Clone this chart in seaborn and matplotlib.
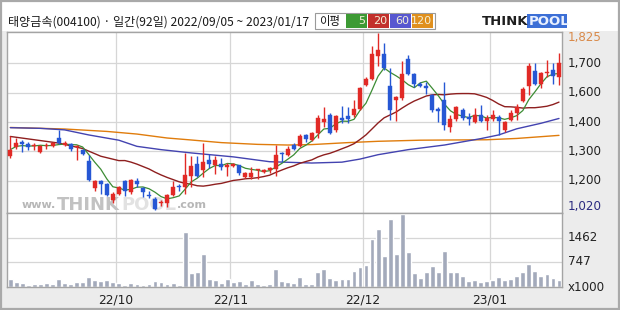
import numpy as np
import pandas as pd
import matplotlib
matplotlib.use("Agg")
import matplotlib.pyplot as plt
import seaborn as sns
from matplotlib.patches import Rectangle

# ---------------- data ----------------
opens = [1265, 1305, 1330, 1320, 1310, 1285, 1310, 1310, 1350, 1315,
         1320, 1305, 1295, 1245, 1120, 1150, 1140, 1065, 1095, 1150,
         1100, 1150, 1120, 1090, 1070, 1050, 1050, 1090, 1130, 1125,
         1175, 1230, 1200, 1250, 1225, 1230, 1215, 1220, 1225, 1170,
         1170, 1200, 1195, 1200, 1205, 1280, 1270, 1315, 1310, 1360,
         1340, 1370, 1420, 1455, 1385, 1440, 1450, 1455, 1480, 1590,
         1615, 1720, 1730, 1585, 1520, 1530, 1710, 1640, 1595, 1585,
         1545, 1480, 1520, 1400, 1435, 1475, 1445, 1420, 1455, 1425,
         1435, 1445, 1385, 1430, 1460, 1515, 1585, 1655, 1595, 1645,
         1660, 1625]
highs = [1355, 1350, 1340, 1330, 1325, 1315, 1325, 1330, 1385, 1335,
         1325, 1315, 1300, 1270, 1155, 1155, 1145, 1100, 1130, 1155,
         1160, 1165, 1125, 1105, 1080, 1065, 1095, 1150, 1140, 1280,
         1265, 1265, 1325, 1275, 1265, 1255, 1235, 1235, 1225, 1195,
         1215, 1205, 1205, 1215, 1315, 1285, 1310, 1325, 1365, 1365,
         1375, 1455, 1490, 1460, 1455, 1495, 1490, 1520, 1580, 1625,
         1765, 1825, 1780, 1665, 1540, 1700, 1725, 1645, 1605, 1605,
         1550, 1490, 1605, 1455, 1495, 1485, 1460, 1485, 1500, 1455,
         1475, 1455, 1425, 1475, 1505, 1580, 1690, 1690, 1650, 1705,
         1690, 1735]
lows = [1255, 1300, 1285, 1295, 1295, 1280, 1300, 1305, 1320, 1310,
        1290, 1250, 1270, 1150, 1105, 1095, 1085, 1050, 1090, 1085,
        1095, 1125, 1080, 1075, 1020, 1040, 1035, 1085, 1105, 1095,
        1125, 1170, 1170, 1210, 1185, 1200, 1175, 1215, 1180, 1165,
        1160, 1160, 1190, 1190, 1175, 1240, 1265, 1295, 1305, 1330,
        1335, 1350, 1400, 1365, 1375, 1415, 1415, 1445, 1475, 1585,
        1610, 1675, 1660, 1430, 1425, 1520, 1635, 1580, 1580, 1550,
        1465, 1420, 1385, 1375, 1425, 1430, 1405, 1415, 1420, 1385,
        1425, 1360, 1375, 1425, 1430, 1510, 1545, 1590, 1575, 1625,
        1595, 1590]
closes = [1295, 1325, 1320, 1305, 1315, 1310, 1315, 1325, 1325, 1325,
          1300, 1310, 1275, 1155, 1150, 1140, 1090, 1095, 1125, 1105,
          1155, 1140, 1100, 1085, 1025, 1055, 1090, 1125, 1125, 1180,
          1220, 1175, 1240, 1230, 1250, 1215, 1225, 1230, 1190, 1190,
          1190, 1205, 1200, 1210, 1270, 1275, 1300, 1300, 1355, 1345,
          1370, 1440, 1435, 1370, 1450, 1430, 1435, 1480, 1575, 1615,
          1730, 1750, 1665, 1475, 1535, 1640, 1640, 1595, 1585, 1575,
          1475, 1470, 1405, 1435, 1490, 1440, 1435, 1455, 1425, 1440,
          1455, 1425, 1420, 1460, 1490, 1570, 1675, 1595, 1645, 1650,
          1630, 1690]
volumes = [246, 167, 128, 79, 88, 108, 128, 98, 246, 118,
           98, 148, 148, 295, 216, 197, 216, 148, 118, 79,
           118, 108, 79, 98, 187, 148, 88, 118, 79, 1640,
           432, 462, 983, 246, 216, 118, 246, 147, 187, 98,
           216, 98, 79, 88, 540, 187, 147, 118, 315, 98,
           98, 442, 541, 285, 226, 246, 246, 482, 600, 659,
           1425, 1720, 924, 2015, 983, 2163, 1032, 423, 285, 452,
           629, 452, 1071, 452, 452, 334, 187, 226, 157, 187,
           206, 315, 216, 246, 334, 452, 698, 482, 344, 393,
           275, 216]

# moving-average lines (day index, value)
ma20_early_idx = [0, 4, 8, 12, 15, 18]
ma20_early_val = [1355, 1340, 1325, 1300, 1265, 1245]
ma60_idx = [0, 5, 9, 13, 18, 21, 25, 30, 37, 43, 50, 55, 58, 61, 66, 72, 78, 81, 84, 88, 91]
ma60_val = [1395, 1392, 1385, 1362, 1338, 1310, 1295, 1280, 1262, 1240, 1234, 1238,
            1252, 1272, 1295, 1316, 1345, 1362, 1390, 1415, 1437]
ma120_idx = [0, 9, 16, 21, 26, 30, 35, 41, 46, 50, 56, 61, 68, 79, 84, 91]
ma120_val = [1396, 1389, 1378, 1366, 1348, 1339, 1327, 1319, 1316, 1318, 1327,
             1333, 1338, 1340, 1346, 1360]

month_labels = ["22/10", "22/11", "22/12", "23/01"]
month_first_idx = [18, 37, 59, 80]
price_tick_labels = ["1,700", "1,600", "1,400", "1,300", "1,200"]
price_max_label = "1,825"
price_min_label = "1,020"
vol_ticks = [747, 1462]
vol_tick_labels = ["747", "1462"]
title = "태양금속(004100) · 일간(92일) 2022/09/05 ~ 2023/01/17"
ma_names = ["5", "20", "60", "120"]

# ---------------- style ----------------
sns.set_style("white")
plt.rcParams['font.family'] = ['DejaVu Sans']

W, H = 620, 310
fig = plt.figure(figsize=(6.2, 3.1), dpi=100, facecolor="#ececec")
renderer = fig.canvas.get_renderer()

def fx(px):
    return px / W

def fy(py):
    return 1 - py / H

# white title strip and outer frame
fig.patches.append(Rectangle((0, fy(31)), 1, 31 / H, transform=fig.transFigure,
                             facecolor="white", edgecolor="none", zorder=0))
fig.patches.append(Rectangle((0.0015, 0.003), 0.997, 0.994, transform=fig.transFigure,
                             fill=False, edgecolor="#a9a9a9", lw=1.6, zorder=10))

L, R, T, M, B = 7.3, 562.0, 31.7, 212.7, 287.3
ax_p = fig.add_axes([fx(L), fy(M), fx(R) - fx(L), (M - T) / H])
ax_v = fig.add_axes([fx(L), fy(B), fx(R) - fx(L), (B - M) / H])

n = len(closes)
idx = np.arange(n)
df = pd.DataFrame({"i": idx, "o": opens, "h": highs, "l": lows, "c": closes, "v": volumes})

RED = "#e12a26"
BLUE = "#2657d4"
ymin, ymax = 1007.7, 1832.3

for ax in (ax_p, ax_v):
    ax.set_facecolor("white")
    for s in ax.spines.values():
        s.set_color("#a4a4a4")
        s.set_linewidth(1.0)
    for m in month_first_idx:
        ax.axvline(m - 0.5, color="#d6d6d6", lw=0.9, zorder=0)

ax_p.set_ylim(ymin, ymax)
fracs = np.linspace(0.175, 0.823, len(price_tick_labels))
tick_vals = ymax - fracs * (ymax - ymin)
for v in tick_vals:
    ax_p.axhline(v, color="#d6d6d6", lw=0.9, zorder=0)

# watermark (placed piece after piece, under the candles)
wx = 22.0
for txt, size, col, base in [("www.", 8, "#b7b7b7", 208.5), ("THINK", 13, "#c2c2c2", 209.5),
                             ("POOL", 13, "#e2e2e2", 209.5), (".com", 8, "#b7b7b7", 208.5)]:
    t = ax_p.text(fx(wx), fy(base), txt, transform=fig.transFigure, fontsize=size, color=col,
                  fontweight="bold", va="baseline", ha="left", zorder=1)
    bb = t.get_window_extent(renderer)
    wx = bb.x1 + 1.0

# candles
up = df["c"] >= df["o"]
cols = np.where(up, RED, BLUE)
ax_p.vlines(df["i"], df["l"], df["h"], colors=cols, lw=1.0, zorder=3)
body_lo = np.minimum(df["o"], df["c"])
body_h = np.maximum(np.abs(df["c"] - df["o"]), 4)
ax_p.bar(df["i"], body_h, bottom=body_lo, width=0.66, color=cols, edgecolor=cols,
         lw=0.3, zorder=4)

# moving averages
ma5 = df["c"].rolling(5, min_periods=1).mean()
ma20_calc = df["c"].rolling(20).mean()
ma20_x = list(ma20_early_idx) + list(idx[19:])
ma20_y = list(ma20_early_val) + list(ma20_calc.iloc[19:])
sns.lineplot(x=ma120_idx, y=ma120_val, ax=ax_p, color="#e07c0c", lw=1.0, zorder=2,
             estimator=None, legend=False)
sns.lineplot(x=ma60_idx, y=ma60_val, ax=ax_p, color="#4343b0", lw=1.0, zorder=2,
             estimator=None, legend=False)
sns.lineplot(x=ma20_x, y=ma20_y, ax=ax_p, color="#8e1f1f", lw=1.0, zorder=2,
             estimator=None, legend=False)
sns.lineplot(x=idx, y=ma5.values, ax=ax_p, color="#3c8c34", lw=0.9, zorder=2,
             estimator=None, legend=False)

# volume
ax_v.set_ylim(0, 2200)
for v in vol_ticks:
    ax_v.axhline(v, color="#d6d6d6", lw=0.9, zorder=0)
ax_v.bar(df["i"], df["v"], width=0.8, color="#a3aabb", zorder=2)

for ax in (ax_p, ax_v):
    ax.set_xlabel("")
    ax.set_ylabel("")
    ax.set_xticks([])
    ax.set_yticks([])
    ax.set_xlim(-0.5, n - 0.5)
ax_p.set_ylim(ymin, ymax)
ax_v.set_ylim(0, 2200)

# price labels
tr_p = ax_p.get_yaxis_transform()
lab_font = dict(fontsize=8.6, family=["DejaVu Sans"])
for v, t in zip(tick_vals, price_tick_labels):
    ax_p.text(1.011, v, t, transform=tr_p, va="center", ha="left", color="#222222", **lab_font)
ax_p.text(1.011, max(highs) - 17, price_max_label, transform=tr_p, va="center", ha="left",
          color="#d98a4a", **lab_font)
ax_p.text(1.011, min(lows) + 14, price_min_label, transform=tr_p, va="center", ha="left",
          color="#2b2b80", **lab_font)

tr_v = ax_v.get_yaxis_transform()
for v, t in zip(vol_ticks, vol_tick_labels):
    ax_v.text(1.011, v, t, transform=tr_v, va="center", ha="left", color="#222222", **lab_font)
ax_v.text(1.011, 0, "x1000", transform=tr_v, va="center", ha="left", color="#222222", **lab_font)

tr_x = ax_v.get_xaxis_transform()
for m, t in zip(month_first_idx, month_labels):
    ax_v.text(m - 0.5, -0.17, t, transform=tr_x, ha="center", va="center",
              fontsize=8.8, color="#222222")

# title
fig.text(fx(8), fy(22.5), title, fontsize=8.7, va="center", ha="left", color="#1a1a1a",
         family=["Noto Sans CJK KR", "DejaVu Sans"])

# MA legend
fig.patches.append(Rectangle((fx(315), fy(29.3)), fx(435) - fx(315), (29.3 - 12.7) / H,
                             transform=fig.transFigure, facecolor="white",
                             edgecolor="#9a9a9a", lw=0.8, zorder=2))
fig.text(fx(330), fy(21), "이평", fontsize=8.2, ha="center", va="center", color="#111111",
         family=["Noto Sans CJK KR", "DejaVu Sans"], zorder=3)
boxes = [(345.7, 366.7, "#3d9a34"), (368, 389, "#c2302b"), (390, 411, "#5757d0"),
         (412, 433, "#e0901e")]
for (x0, x1, c), name in zip(boxes, ma_names):
    fig.patches.append(Rectangle((fx(x0), fy(27.8)), fx(x1) - fx(x0), (27.8 - 14.2) / H,
                                 transform=fig.transFigure, facecolor=c, edgecolor="none",
                                 zorder=3))
    fig.text(fx(x1 - 1.5), fy(21), name, fontsize=8, ha="right", va="center",
             color="#f4f0d8", zorder=4)

# THINKPOOL logo
fig.text(fx(482), fy(21.5), "THINK", fontsize=9.5, fontweight="bold", ha="left",
         va="center", color="#1e1e1e")
fig.patches.append(Rectangle((fx(527), fy(28)), fx(567) - fx(527), 13.5 / H,
                             transform=fig.transFigure, facecolor="#3c6fd6",
                             edgecolor="none", zorder=1))
fig.text(fx(529), fy(21.5), "POOL", fontsize=9.5, fontweight="bold", ha="left",
         va="center", color="#eaf1ff", zorder=3)

fig.savefig("out.png", dpi=100, facecolor=fig.get_facecolor())
